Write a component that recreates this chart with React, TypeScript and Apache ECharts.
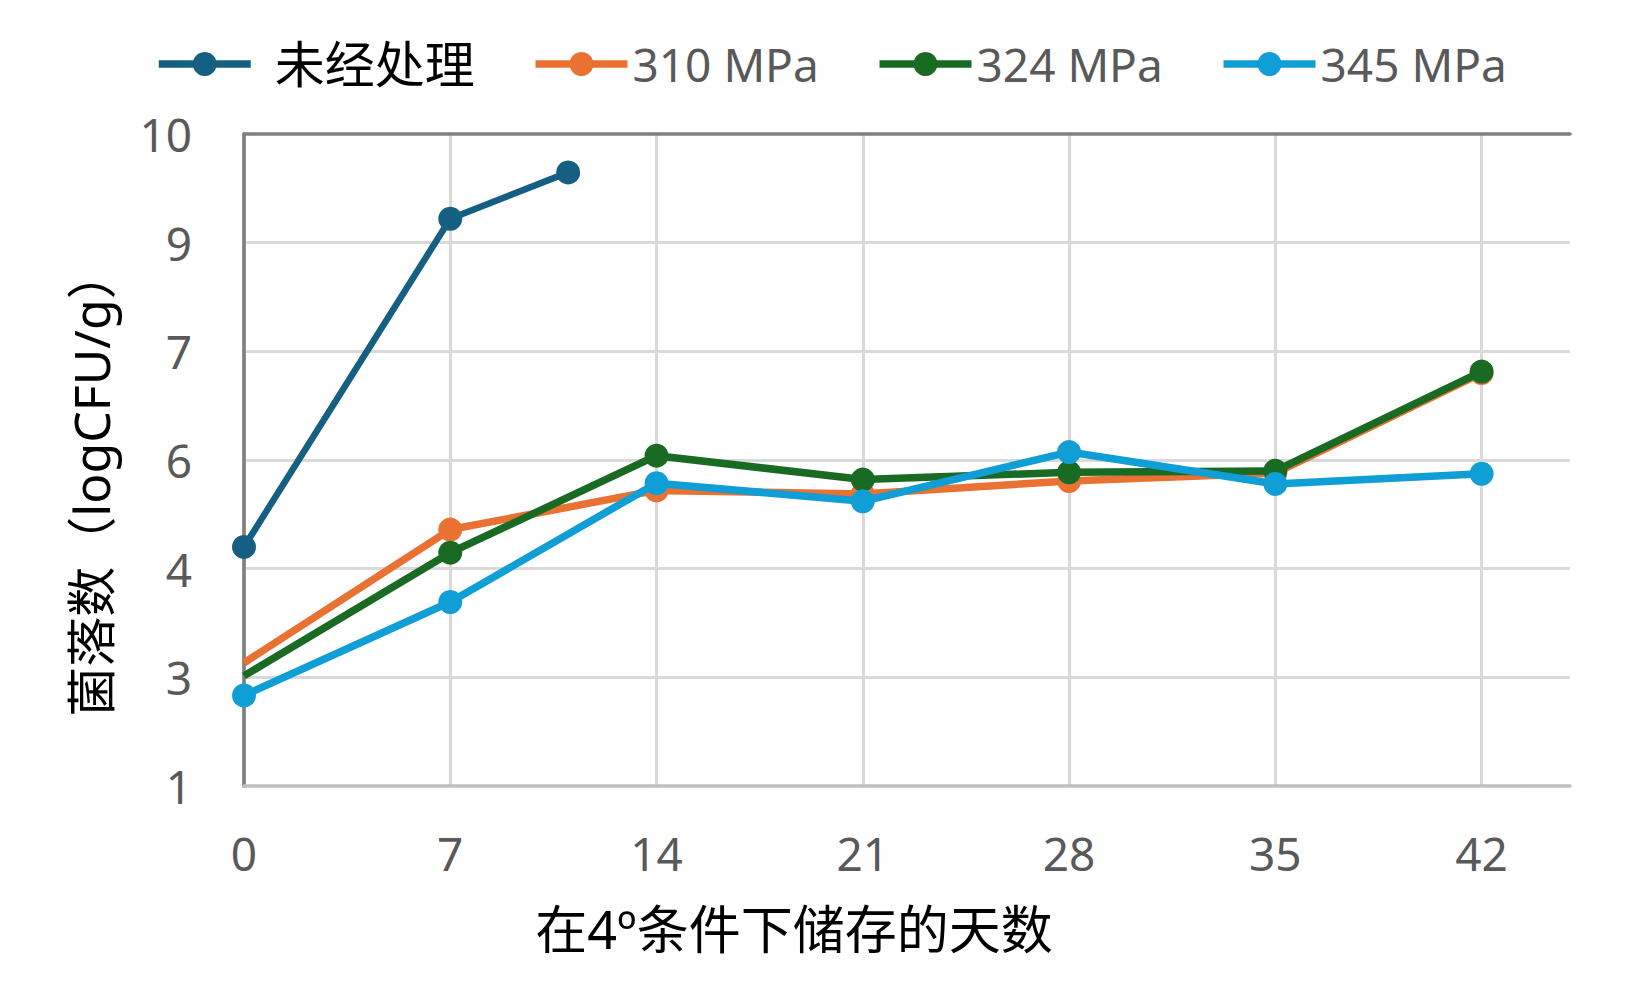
import React, { useEffect, useRef } from "react";
import * as echarts from "echarts";

const seriesNames = ["未经处理", "310 MPa", "324 MPa", "345 MPa"];
const colors = ["#156082", "#E97132", "#196B24", "#0F9ED5"];

const untreatedDays = [0, 7, 11];
const untreatedValues = [4.3, 8.83, 9.47];

const days = [0, 7, 14, 21, 28, 35, 42];
const values310 = [2.7, 4.54, 5.08, 5.03, 5.21, 5.32, 6.7];
const values324 = [2.52, 4.22, 5.56, 5.23, 5.33, 5.35, 6.72];
const values345 = [2.25, 3.54, 5.18, 4.93, 5.61, 5.17, 5.31];

// points drawn without a marker (first point of 310 / 324 MPa)
const noMarkerAtFirst = [false, true, true, false];

const xTitle = "在4º条件下储存的天数";
const yTitle = "菌落数（logCFU/g）";

const FONT = "'Noto Sans', 'Noto Sans CJK SC', sans-serif";

function pairs(xs: number[], ys: number[], hideFirst: boolean) {
  return xs.map((x, i) =>
    hideFirst && i === 0 ? { value: [x, ys[i]], symbol: "none" } : { value: [x, ys[i]] }
  );
}

export default function App() {
  const ref = useRef<HTMLDivElement>(null);
  useEffect(() => {
    if (!ref.current) return;
    const chart = echarts.init(ref.current, undefined, { renderer: "svg" });
    const allValues = [untreatedValues, values310, values324, values345];
    const allDays = [untreatedDays, days, days, days];
    const series = seriesNames.map((name, i) => ({
      name,
      type: "line",
      data: pairs(allDays[i], allValues[i], noMarkerAtFirst[i]),
      symbol: "circle",
      symbolSize: 24,
      showAllSymbol: true,
      itemStyle: { color: colors[i] },
      lineStyle: { color: colors[i], width: i === 0 ? 6.5 : 7.5 },
      z: 2 + i,
    }));
    chart.setOption({
      animation: false,
      textStyle: { fontFamily: FONT },
      legend: {
        data: seriesNames,
        left: 150,
        top: 34,
        itemWidth: 92,
        itemHeight: 30,
        itemGap: 57,
        lineStyle: { width: 7.5 },
        formatter: (n: string) => (n === "未经处理" ? `{cjk|${n}}` : `{lat|${n}}`),
        textStyle: {
          fontFamily: FONT,
          rich: {
            cjk: { fontSize: 50, color: "#000000", padding: [0, 0, 0, 19], fontFamily: FONT },
            lat: { fontSize: 46, color: "#595959", fontFamily: FONT },
          },
        },
      },
      grid: { left: 244, right: 80, top: 134, bottom: 216 },
      xAxis: [
        {
          type: "value",
          min: 0,
          max: 45,
          interval: 7,
          axisLine: { show: true, lineStyle: { color: "#BFBFBF", width: 3.5 } },
          axisTick: { show: false },
          axisLabel: {
            color: "#595959",
            fontSize: 46,
            margin: 44,
            fontFamily: FONT,
            showMaxLabel: false,
            formatter: (v: number) => (v % 7 === 0 ? String(v) : ""),
          },
          splitLine: { show: true, showMaxLine: false, lineStyle: { color: "#D9D9D9", width: 3 } },
          name: xTitle,
          nameLocation: "middle",
          nameGap: 116,
          nameTextStyle: { color: "#000000", fontSize: 52, fontFamily: FONT, padding: [0, 226, 0, 0] },
        },
        {
          type: "value",
          position: "top",
          min: 0,
          max: 45,
          interval: 7,
          axisLine: { show: true, lineStyle: { color: "#808080", width: 3.5 } },
          axisTick: { show: false },
          axisLabel: { show: false },
          splitLine: { show: false },
        },
      ],
      yAxis: [
        {
          type: "value",
          min: 1,
          max: 10,
          interval: 1.5,
          axisLine: { show: true, lineStyle: { color: "#BFBFBF", width: 3.5 } },
          axisTick: { show: false },
          axisLabel: {
            color: "#595959",
            fontSize: 46,
            margin: 52,
            fontFamily: FONT,
            formatter: (v: number) => String(Math.round(v)),
          },
          splitLine: { show: true, showMaxLine: false, showMinLine: false, lineStyle: { color: "#D9D9D9", width: 3 } },
          name: yTitle,
          nameLocation: "middle",
          nameGap: 128,
          nameTextStyle: { color: "#000000", fontSize: 50, fontFamily: FONT, padding: [0, 46, 0, 0] },
        },
        {
          type: "value",
          position: "right",
          min: 1,
          max: 10,
          interval: 1.5,
          axisLine: { show: true, lineStyle: { color: "#808080", width: 3.5 } },
          axisTick: { show: false },
          axisLabel: { show: false },
          splitLine: { show: false },
        },
      ],
      series,
    });
    return () => chart.dispose();
  }, []);
  return (
    <div
      ref={ref}
      style={{ position: "fixed", left: 0, top: 0, width: 1650, height: 1002, background: "#ffffff" }}
    />
  );
}
